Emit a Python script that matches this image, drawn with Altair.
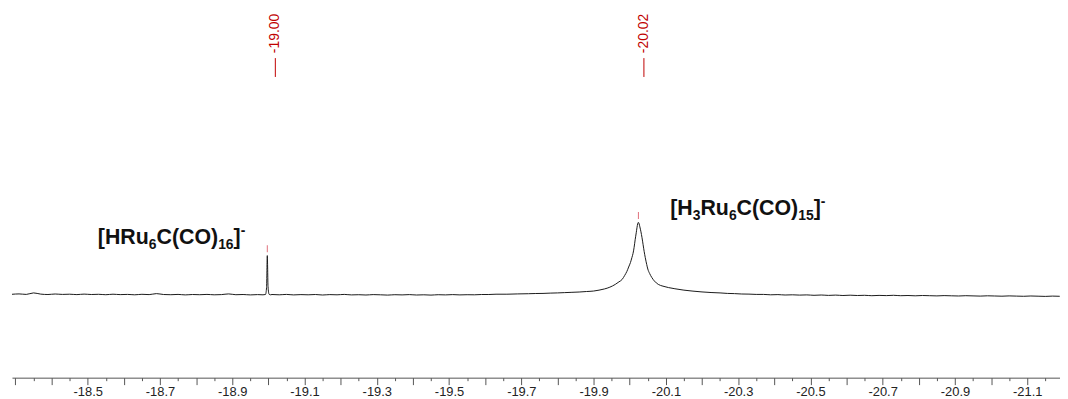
import altair as alt
import pandas as pd

# ---------------- data ----------------
# chemical shift (ppm) and intensity (a.u.) of the 1H NMR trace
ppm = [
    -18.29, -18.31, -18.33, -18.35, -18.37, -18.39, -18.41, -18.43, -18.45, -18.47,
    -18.49, -18.51, -18.53, -18.55, -18.57, -18.59, -18.61, -18.63, -18.65, -18.67,
    -18.69, -18.71, -18.73, -18.75, -18.77, -18.79, -18.81, -18.83, -18.85, -18.87,
    -18.89, -18.91, -18.93, -18.95, -18.97, -18.985,
    -18.992, -18.995, -18.997, -18.999, -19.002, -19.006,
    -19.01, -19.03, -19.05, -19.07, -19.09, -19.11, -19.13, -19.15, -19.17, -19.19,
    -19.21, -19.23, -19.25, -19.27, -19.29, -19.31, -19.33, -19.35, -19.37, -19.39,
    -19.41, -19.43, -19.45, -19.47, -19.49, -19.51, -19.53, -19.55, -19.57, -19.59,
    -19.61, -19.63, -19.66, -19.69, -19.72, -19.74, -19.76, -19.78, -19.80, -19.82,
    -19.84, -19.86, -19.88, -19.90, -19.915, -19.93, -19.945, -19.96, -19.97, -19.979,
    -19.986, -19.992, -19.997, -20.002, -20.006, -20.009, -20.012, -20.015, -20.018, -20.020,
    -20.022, -20.024, -20.026, -20.028, -20.031, -20.034, -20.037, -20.040, -20.043, -20.047,
    -20.050, -20.055, -20.061, -20.068, -20.079, -20.092, -20.107, -20.125, -20.15, -20.175,
    -20.20, -20.225, -20.25, -20.27, -20.29, -20.31, -20.33, -20.35, -20.37, -20.39,
    -20.41, -20.43, -20.45, -20.47, -20.49, -20.51, -20.53, -20.55, -20.57, -20.59,
    -20.61, -20.63, -20.65, -20.67, -20.69, -20.71, -20.73, -20.75, -20.77, -20.79,
    -20.81, -20.83, -20.85, -20.87, -20.89, -20.91, -20.93, -20.95, -20.97, -20.99,
    -21.01, -21.03, -21.05, -21.07, -21.09, -21.11, -21.13, -21.15, -21.17, -21.19,
]
intensity = [
    1.0, 1.4, 0.9, 2.4, 1.2, 0.8, 1.3, 0.9, 1.1, 0.7,
    1.2, 0.8, 1.0, 0.6, 1.1, 0.7, 0.9, 0.5, 1.0, 0.7,
    1.7, 0.8, 0.6, 0.9, 0.4, 0.8, 0.6, 0.9, 0.5, 0.7,
    1.4, 0.6, 0.8, 0.4, 0.7, 0.5,
    0.8, 8.0, 40.0, 9.0, 1.0, 0.5,
    0.8, 0.5, 0.9, 0.4, 0.7, 0.5, 0.8, 0.3, 0.7, 0.5,
    0.9, 0.4, 0.6, 0.3, 0.7, 0.5, 0.2, 0.6, 0.4, 0.7,
    0.3, 0.5, 0.2, 0.6, 0.4, 0.7, 0.4, 0.6, 0.5, 0.8,
    0.8, 1.1, 1.1, 1.4, 1.6, 1.8, 1.9, 2.2, 2.4, 2.7,
    3.0, 3.3, 3.8, 4.3, 5.2, 6.4, 8.2, 11.0, 13.5, 16.0,
    20.0, 24.0, 28.5, 33.0, 38.0, 42.0, 48.0, 56.0, 63.0, 68.0,
    72.0, 73.5, 72.0, 69.0, 64.0, 58.0, 51.0, 44.0, 38.0, 31.0,
    26.5, 22.0, 18.0, 14.5, 11.0, 9.2, 7.8, 6.6, 5.2, 4.2,
    3.4, 2.8, 2.4, 1.9, 1.7, 1.3, 1.2, 0.9, 0.9, 0.5,
    0.7, 0.3, 0.5, 0.2, 0.4, 0.0, 0.3, -0.1, 0.2, -0.2,
    0.1, -0.2, 0.0, -0.4, -0.1, -0.3, 0.0, -0.4, -0.2, -0.5,
    -0.2, -0.4, -0.6, -0.3, -0.5, -0.7, -0.4, -0.6, -0.8, -0.5,
    -0.7, -0.9, -0.6, -0.8, -1.0, -0.7, -0.9, -1.1, -0.8, -1.0,
]

peak_ppm = [-18.997, -20.024]
peak_height = [40.0, 73.5]
peak_labels = ["-19.00", "-20.02"]
peak_label_values = [-19.00, -20.02]

tick_labels = [-18.5, -18.7, -18.9, -19.1, -19.3, -19.5, -19.7, -19.9,
               -20.1, -20.3, -20.5, -20.7, -20.9, -21.1]

# compound labels: (text, role) pieces; anchor in data coordinates
compound1 = [("[HRu", "n"), ("6", "sub"), ("C(CO)", "n"), ("16", "sub"), ("]", "n"), ("-", "sup")]
compound2 = [("[H", "n"), ("3", "sub"), ("Ru", "n"), ("6", "sub"), ("C(CO)", "n"),
             ("15", "sub"), ("]", "n"), ("-", "sup")]
compound_anchor_ppm = [-18.528, -20.112]
compound_anchor_y = [52.0, 81.0]

# ---------------- layout / style ----------------
PX_PER_PPM = 364.1
X_DOMAIN = [-21.1907, -18.2904]
Y_DOMAIN = [-83, 288]
FONT = "Liberation Sans"
RED = "#c00000"
PINK = "#e0707c"
AXIS_GREY = "#555555"

major_ticks = [round(-18.3 - 0.1 * i, 1) for i in range(29)]
minor_ticks = [round(-18.35 - 0.1 * i, 2) for i in range(29)]

xscale = alt.Scale(domain=X_DOMAIN, reverse=True, nice=False, zero=False)
yscale = alt.Scale(domain=Y_DOMAIN, nice=False, zero=False)

spec_df = pd.DataFrame({"ppm": ppm, "intensity": intensity})
peak_df = pd.DataFrame({"ppm": peak_ppm, "h": peak_height,
                        "label": peak_labels, "lv": peak_label_values})
label_list = ",".join(str(v) for v in tick_labels)

major_axis = alt.Axis(
    orient="bottom", values=major_ticks, title=None, grid=False,
    domainColor=AXIS_GREY, tickColor=AXIS_GREY, domainWidth=1, tickWidth=1, tickSize=7,
    labelExpr=f"indexof([{label_list}], datum.value) >= 0 ? '-' + format(abs(datum.value), '.1f') : ''",
    labelFont=FONT, labelFontSize=13, labelColor="#222222", labelPadding=1,
    labelOverlap=False, labelFlush=False,
)
minor_axis = alt.Axis(
    orient="bottom", values=minor_ticks, title=None, grid=False, labels=False,
    domain=False, tickColor=AXIS_GREY, tickWidth=1, tickSize=3,
)

line = alt.Chart(spec_df).mark_line(
    color="#1a1a1a", strokeWidth=1, interpolate="monotone", clip=True
).encode(
    x=alt.X("ppm:Q", scale=xscale, axis=major_axis),
    y=alt.Y("intensity:Q", scale=yscale, axis=None),
)

markers = alt.Chart(peak_df).mark_tick(
    orient="vertical", size=7, thickness=1, color=PINK, opacity=1, yOffset=-7
).encode(
    x=alt.X("ppm:Q", scale=xscale, axis=minor_axis),
    y=alt.Y("h:Q", scale=yscale, axis=None),
)

shift = 7.0 / PX_PER_PPM
top_base = alt.Chart(peak_df).transform_calculate(xl=f"datum.lv - {shift}")

top_rules = top_base.mark_rule(color=RED, strokeWidth=1).encode(
    x=alt.X("xl:Q", scale=xscale, axis=None),
    y=alt.value(49), y2=alt.value(68),
)
top_text = top_base.mark_text(
    angle=270, align="left", baseline="middle", font=FONT, fontSize=14, color=RED
).encode(
    x=alt.X("xl:Q", scale=xscale, axis=None),
    y=alt.value(44),
    text="label:N",
)

# Arial / Liberation Sans Bold advance widths (per 1000 em)
W = {"[": 333, "]": 333, "H": 722, "R": 722, "u": 611, "C": 722, "(": 333,
     ")": 333, "O": 778, "-": 333}
BIG, SMALL = 21.5, 14


def width(s, size):
    return sum(W.get(c, 556) for c in s) * size / 1000.0


def compound_layers(pieces, xp, yv):
    df = pd.DataFrame({"ppm": [xp], "y": [yv]})
    layers = []
    off = 0.0
    for text, role in pieces:
        size = BIG if role == "n" else SMALL
        dy = 0 if role == "n" else (5 if role == "sub" else -9)
        layers.append(
            alt.Chart(df).mark_text(
                text=text, align="left", baseline="alphabetic", font=FONT,
                fontWeight="bold", fontSize=size, color="#111111", dx=off, dy=dy,
            ).encode(x=alt.X("ppm:Q", scale=xscale, axis=None),
                     y=alt.Y("y:Q", scale=yscale, axis=None))
        )
        off += width(text, size)
    return layers


labels = (compound_layers(compound1, compound_anchor_ppm[0], compound_anchor_y[0])
          + compound_layers(compound2, compound_anchor_ppm[1], compound_anchor_y[1]))

chart = alt.layer(line, markers, top_rules, top_text, *labels).resolve_axis(
    x="independent"
).properties(
    width=1056, height=371,
    autosize=alt.AutoSizeParams(type="none"),
    padding={"left": 4, "top": 0, "right": 0, "bottom": 20},
).configure_view(strokeWidth=0)

chart.save("out.html", embed_options={"renderer": "svg", "actions": False})
